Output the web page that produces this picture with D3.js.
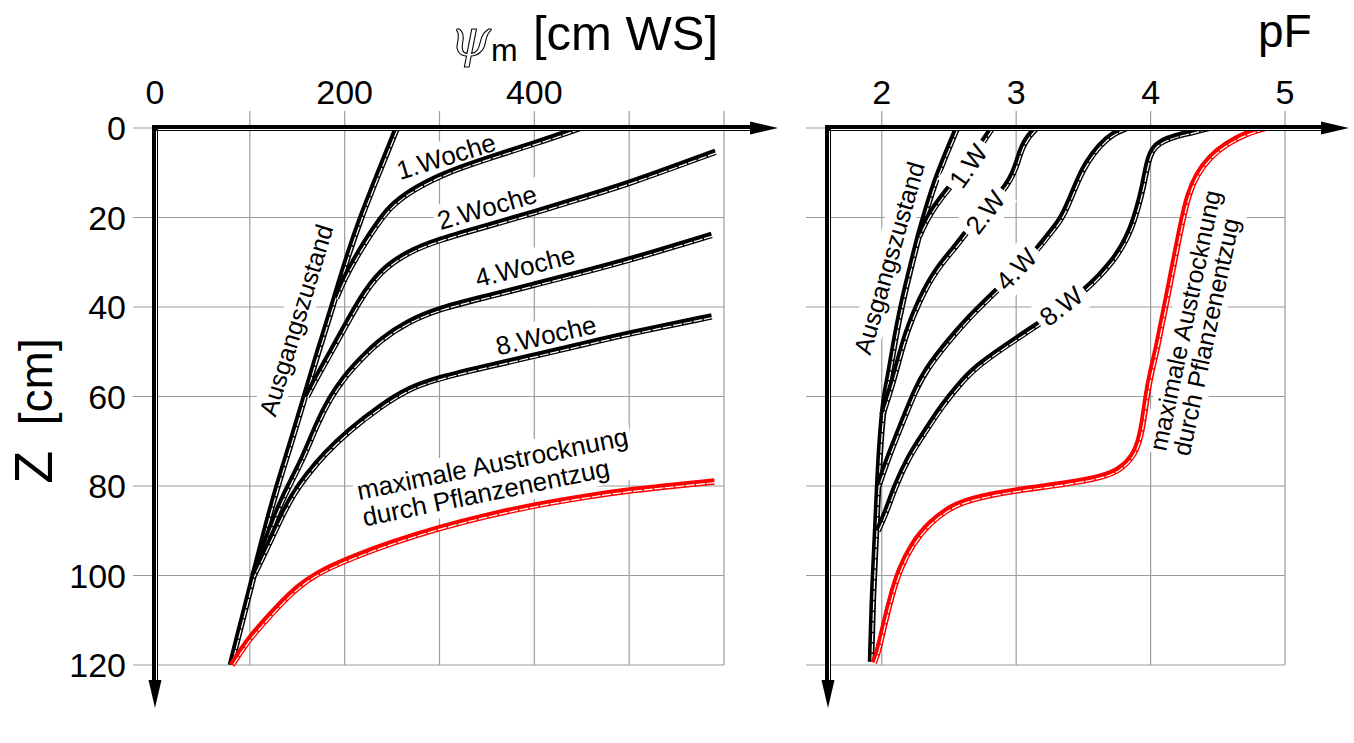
<!DOCTYPE html>
<html>
<head>
<meta charset="utf-8">
<script src="https://cdn.jsdelivr.net/npm/d3@7"></script>
<style>
  html, body { margin: 0; background: #fff; }
  svg { display: block; font-family: "Liberation Sans", Arial, sans-serif; }
</style>
</head>
<body>
<svg id="chart" width="1354" height="743"></svg>
<script>
// ---- data ----
const depthTicks = [0, 20, 40, 60, 80, 100, 120];
const psiGrid = [100, 200, 300, 400, 500, 600];
const psiTicks = [0, 200, 400];
const pfTicks = [2, 3, 4, 5];

// left panel: [psi_m (cm WS), Z (cm)]
const psiInitial = [[255,0],[236,10],[217,20],[201,30],[187,40],[172,50],[158,60],[144,70],[129,80],[116,90],[104,100],[92,110],[80,120]];
const psiWeek1 = [[448,0],[400,3.5],[350,6.8],[300,10.5],[266,14.5],[248,17.6],[234,21.5],[220,26],[209,30],[200,33.5],[191,38]];
const psiWeek2 = [[591,5.3],[500,12.4],[450,15.6],[400,18.9],[350,21.9],[300,24.9],[266,27.7],[237,32],[217,38],[200,44.5],[183,51],[171,55.5],[160,60]];
const psiWeek4 = [[587,23.9],[500,29.5],[450,32.3],[400,35],[350,37.7],[300,40.3],[266,43.3],[237,47.4],[217,51.6],[200,55.5],[184,60.5],[170,66.5],[157,73.4],[141,80],[130,85],[121,90],[111,95.5],[104,100]];
const psiWeek8 = [[587,42.1],[500,45.9],[450,48.4],[400,50.9],[350,53.3],[300,55.8],[266,58.3],[237,62.3],[205,67.5],[180,72.5],[160,77.5],[145,82],[133,87],[122,92],[112,96.5],[104,100]];
const psiMaxDry = [[590,79],[500,80.9],[450,82.5],[400,84.3],[350,86.6],[300,89.3],[250,92.6],[200,96.6],[170,99.6],[150,102.6],[130,106.8],[113,110.8],[100,114],[90,117],[81,120]];

// right panel: [pF, Z (cm)]
const pfInitial = [[2.56,0],[2.48,5.7],[2.39,12.5],[2.33,18.5],[2.28,23.5],[2.23,29.5],[2.18,35.5],[2.13,42.2],[2.085,49.6],[2.05,56],[2.02,60],[1.99,69.7],[1.972,80],[1.955,92],[1.935,103],[1.92,119.3]];
const pfWeek1 = [[2.82,0],[2.77,2.3],[2.65,7.5],[2.52,12.7],[2.455,15],[2.36,19],[2.31,22],[2.28,24]];
const pfWeek2 = [[3.15,0],[3.09,1.8],[3.04,4.5],[3.01,7.5],[2.98,10],[2.93,12.8],[2.85,15.6],[2.75,19],[2.64,22.8],[2.55,26.5],[2.40,31.7],[2.28,38.4],[2.18,45.8],[2.12,52.5],[2.07,58],[2.005,64]];
const pfWeek4 = [[3.82,0],[3.72,1.2],[3.62,3.8],[3.52,7.9],[3.46,11.6],[3.39,16.8],[3.33,20.6],[3.25,23.5],[3.17,26.7],[3.0,32],[2.82,37.3],[2.655,42.1],[2.48,48.1],[2.33,54],[2.25,58.5],[2.15,66],[2.05,73.4],[1.975,80]];
const pfWeek8 = [[4.43,0],[4.27,1.2],[4.12,2.3],[4.02,4.2],[3.98,7.2],[3.945,13.1],[3.90,18.3],[3.855,22.5],[3.79,26.5],[3.71,30],[3.62,33],[3.52,36],[3.33,40.5],[3.115,44.8],[2.93,48.5],[2.70,53.3],[2.57,57.5],[2.45,62],[2.33,67.5],[2.20,73.4],[2.10,80],[2.03,86],[1.97,90]];
const pfMaxDry = [[4.85,0],[4.71,1.2],[4.57,3.4],[4.44,6.4],[4.34,10.5],[4.28,15],[4.24,20],[4.20,26],[4.16,32],[4.12,38.4],[4.08,44],[4.045,49.6],[4.0,55],[3.97,60],[3.95,64.5],[3.92,69.7],[3.87,73.4],[3.77,76.4],[3.65,77.9],[3.40,79.4],[3.0,80.9],[2.73,82.4],[2.53,84.2],[2.35,88.3],[2.23,92.8],[2.13,98.7],[2.07,104.7],[2.02,110.7],[1.97,117.4],[1.94,119.5]];

// ---- layout ----
const svg = d3.select("#chart");
const y = d3.scaleLinear().domain([0, 120]).range([128, 665]);
const xPsi = d3.scaleLinear().domain([0, 600]).range([155, 724]);
const xPf = d3.scaleLinear().domain([1.6, 5]).range([828, 1285]);

const gGrid = svg.append("g");
const gUnder = svg.append("g");
const gCurves = svg.append("g");
const gOver = svg.append("g");
const gText = svg.append("g");
const gAxes = svg.append("g");

function grid(x, xs, left) {
    gGrid.selectAll(null).data(xs).join("line")
        .attr("x1", d => x(d)).attr("x2", d => x(d)).attr("y1", y(0) - 17).attr("y2", y(120))
        .attr("stroke", "#9c9c9c").attr("stroke-width", 1.2);
    gGrid.selectAll(null).data(depthTicks).join("line")
        .attr("x1", left - 22).attr("x2", x(x.domain()[1])).attr("y1", d => y(d)).attr("y2", d => y(d))
        .attr("stroke", "#9c9c9c").attr("stroke-width", 1.2);
}
grid(xPsi, psiGrid, xPsi(0));
grid(xPf, pfTicks, xPf(1.6));

function curve(data, x, color) {
    const line = d3.line().x(d => x(d[0])).y(d => y(d[1])).curve(d3.curveBasis);
    gCurves.append("path").attr("d", line(data)).attr("fill", "none")
        .attr("stroke", color).attr("stroke-width", 6.5).attr("stroke-linejoin", "round");
    gCurves.append("path").attr("d", line(data)).attr("fill", "none")
        .attr("transform", "translate(0.9,1.1)")
        .attr("stroke", "#fff").attr("stroke-width", 1.2).attr("stroke-dasharray", "9 1.5");
}
[psiInitial, psiWeek1, psiWeek2, psiWeek4, psiWeek8].forEach(d => curve(d, xPsi, "#000"));
curve(psiMaxDry, xPsi, "#ff0000");
[pfInitial, pfWeek1, pfWeek2, pfWeek4, pfWeek8].forEach(d => curve(d, xPf, "#000"));
curve(pfMaxDry, xPf, "#ff0000");

// labels with white boxes (under = cuts only grid, over = also cuts curves)
function label(lines, px, py, angle, opts) {
    const o = Object.assign({ size: 26, anchor: "middle", lh: 27, over: false, pad: 3 }, opts);
    const g = gText.append("g").attr("transform", `translate(${px},${py}) rotate(${angle})`);
    const t = g.append("text").attr("font-size", o.size).attr("text-anchor", o.anchor);
    lines.forEach((s, i) => t.append("tspan").attr("x", 0)
        .attr("dy", i === 0 ? (o.anchor === "middle" ? "0.36em" : 0) : o.lh).text(s));
    const b = t.node().getBBox();
    (o.over ? gOver : gUnder).append("rect")
        .attr("transform", `translate(${px},${py}) rotate(${angle})`)
        .attr("x", b.x - o.pad).attr("y", b.y - o.pad + 2)
        .attr("width", b.width + 2 * o.pad).attr("height", b.height + 2 * o.pad - 4)
        .attr("fill", "#fff");
}
label(["Ausgangszustand"], 296, 320, -73, { size: 25 });
label(["1.Woche"], 446, 156, -17);
label(["2.Woche"], 487, 207, -16);
label(["4.Woche"], 525, 266, -14);
label(["8.Woche"], 546, 335, -13);
label(["maximale Austrocknung", "durch Pflanzenentzug"], 359, 500, -11.5, { anchor: "start", lh: 27 });

label(["Ausgangszustand"], 889, 258, -74, { size: 25 });
label(["1.W"], 968, 166, -55, { over: true, pad: 5 });
label(["2.W"], 985, 212, -52, { over: true, pad: 5 });
label(["4.W"], 1016, 269, -46, { over: true, pad: 5 });
label(["8.W"], 1061, 306, -38, { over: true, pad: 5 });
label(["maximale Austrocknung", "durch Pflanzenentzug"], 1166, 452, -78, { anchor: "start", size: 25, lh: 24 });

// tick labels
gText.selectAll(null).data(psiTicks).join("text")
    .attr("x", d => xPsi(d)).attr("y", 104).attr("text-anchor", "middle").attr("font-size", 34).text(d => d);
gText.selectAll(null).data(pfTicks).join("text")
    .attr("x", d => xPf(d)).attr("y", 104).attr("text-anchor", "middle").attr("font-size", 34).text(d => d);
gText.selectAll(null).data(depthTicks).join("text")
    .attr("x", 126).attr("y", d => y(d)).attr("dy", "0.36em").attr("text-anchor", "end").attr("font-size", 34).text(d => d);

// axis titles
gText.append("text").attr("x", 450).attr("y", 56).attr("font-size", 52)
    .attr("font-family", "DejaVu Serif").attr("font-style", "italic")
    .attr("fill", "#fff").attr("stroke", "#000").attr("stroke-width", 1.1).text("ψ");
gText.append("text").attr("x", 491).attr("y", 61).attr("font-size", 32).text("m");
gText.append("text").attr("x", 533).attr("y", 50).attr("font-size", 49).text("[cm WS]");
gText.append("text").attr("x", 1258).attr("y", 47).attr("font-size", 46).text("pF");
const zl = gText.append("text").attr("transform", "translate(52,411) rotate(-90)").attr("text-anchor", "middle");
zl.append("tspan").attr("font-size", 54).text("Z");
zl.append("tspan").attr("font-size", 46).text("\u00a0\u00a0[cm]");

// axes: double line + arrow heads
function axes(x0, tipX) {
    const y0 = y(0), tipY = 708;
    gAxes.append("line").attr("x1", x0 - 3).attr("x2", tipX - 24).attr("y1", y0).attr("y2", y0)
        .attr("stroke", "#000").attr("stroke-width", 6);
    gAxes.append("line").attr("x1", x0 + 3).attr("x2", tipX - 28).attr("y1", y0 + 1.5).attr("y2", y0 + 1.5)
        .attr("stroke", "#fff").attr("stroke-width", 1);
    gAxes.append("path").attr("d", `M${tipX},${y0} L${tipX - 28},${y0 - 6.5} L${tipX - 28},${y0 + 6.5} Z`).attr("fill", "#000");
    gAxes.append("line").attr("x1", x0).attr("x2", x0).attr("y1", y0 - 3).attr("y2", tipY - 24)
        .attr("stroke", "#000").attr("stroke-width", 6);
    gAxes.append("line").attr("x1", x0 + 1.5).attr("x2", x0 + 1.5).attr("y1", y0 + 3).attr("y2", tipY - 28)
        .attr("stroke", "#fff").attr("stroke-width", 1);
    gAxes.append("path").attr("d", `M${x0},${tipY} L${x0 - 6.5},${tipY - 28} L${x0 + 6.5},${tipY - 28} Z`).attr("fill", "#000");
}
axes(xPsi(0), 778);
axes(xPf(1.6), 1349);
</script>
</body>
</html>
